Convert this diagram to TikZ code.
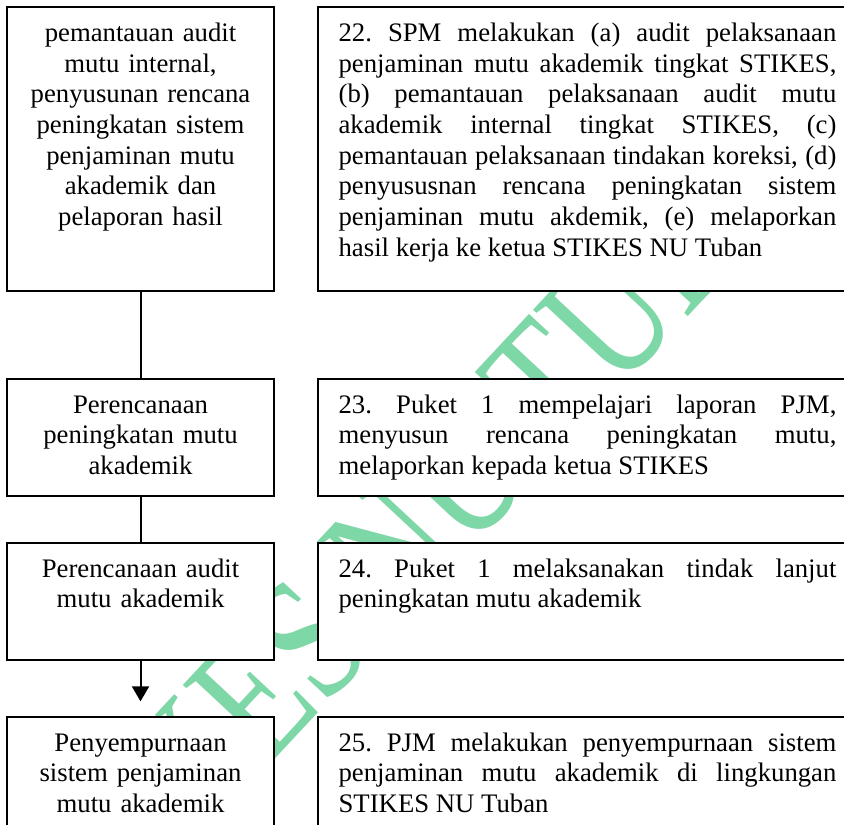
\documentclass[tikz,border=0pt]{standalone}
\usepackage{fontspec}
\setmainfont{Liberation Serif}
\usepackage{xcolor}
\usetikzlibrary{arrows.meta,positioning}
\definecolor{wmgreen}{RGB}{126,215,166}
\frenchspacing

\begin{document}
\begin{tikzpicture}[x=0.449pt, y=-0.449pt, every node/.style={font=\fontsize{12}{13.8}\selectfont}, lbox/.style={draw, line width=0.9pt, fill=white, align=center, text width=109pt, inner xsep=5.45pt, inner ysep=0pt, text height=15.4pt}, rbox/.style={draw, line width=0.9pt, fill=white, align=justify, text width=223.5pt, inner xsep=9.2pt, inner ysep=0pt, text height=15.4pt}, line/.style={line width=0.9pt}, arr/.style={line width=0.9pt, -{Triangle[length=6.7pt,width=7.6pt]}}]
\fill[white] (0,0) rectangle (844,824);
\useasboundingbox (0,0) rectangle (844,824);
\clip (0,0) rectangle (844,824);
\node[text=wmgreen, font=\fontsize{62}{62}\selectfont, rotate=47, yscale=1.3] (wm) at (428,510) {STIKES NU TUBAN};
\node[lbox, anchor=north west, text depth=112.1pt] (pem) at (6,6) {pemantauan audit\\mutu internal,\\penyusunan rencana\\peningkatan sistem\\penjaminan mutu\\akademik dan\\pelaporan hasil};
\node[rbox, text depth=112.1pt, right=18.9pt of pem] (s22) {22. SPM melakukan (a) audit pelaksanaan\linebreak penjaminan mutu akademik tingkat STIKES,\linebreak (b) pemantauan pelaksanaan audit mutu\linebreak akademik internal tingkat STIKES, (c)\linebreak pemantauan pelaksanaan tindakan koreksi, (d)\linebreak penyususnan rencana peningkatan sistem\linebreak penjaminan mutu akdemik, (e) melaporkan\linebreak hasil kerja ke ketua STIKES NU Tuban};
\node[lbox, text depth=37.1pt, below=38.6pt of pem] (rpm) {Perencanaan\\peningkatan mutu\\akademik};
\node[rbox, text depth=37.1pt, right=18.9pt of rpm] (s23) {23. Puket 1 mempelajari laporan PJM,\linebreak menyusun rencana peningkatan mutu,\linebreak melaporkan kepada ketua STIKES};
\node[lbox, text depth=37.1pt, below=20.2pt of rpm] (rau) {Perencanaan audit\\mutu akademik};
\node[rbox, text depth=37.1pt, right=18.9pt of rau] (s24) {24. Puket 1 melaksanakan tindak lanjut\linebreak peningkatan mutu akademik};
\node[lbox, text depth=37.1pt, below=24.7pt of rau] (psm) {Penyempurnaan\\sistem penjaminan\\mutu akademik};
\node[rbox, text depth=37.1pt, right=18.9pt of psm] (s25) {25. PJM melakukan penyempurnaan sistem\linebreak penjaminan mutu akademik di lingkungan\linebreak STIKES NU Tuban};
\coordinate[above=6.5pt of psm.north] (tip);
\draw[line] (pem) -- (rpm);
\draw[line] (rpm) -- (rau);
\draw[arr] (rau) -- (tip);
\end{tikzpicture}
\end{document}
